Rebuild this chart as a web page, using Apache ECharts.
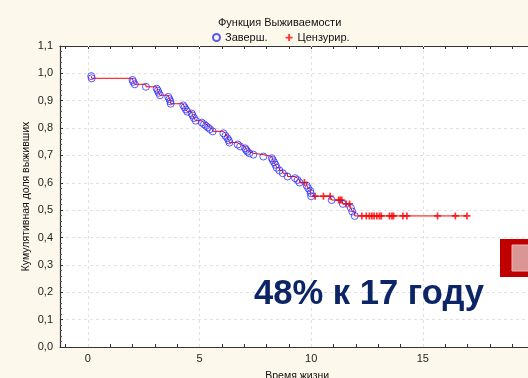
<!DOCTYPE html>
<html>
<head>
<meta charset="utf-8">
<script src="https://cdn.jsdelivr.net/npm/echarts@6/dist/echarts.min.js"></script>
<style>
html,body{margin:0;padding:0;background:#fdf8ec;}
#c{width:528px;height:378px;}
</style>
</head>
<body>
<div id="c"></div>
<script>
// ---- data ----
const eventTimes = [0.15,0.17,2.00,2.03,2.10,2.60,3.08,3.13,3.17,3.23,3.60,3.65,3.69,3.71,4.27,4.33,4.39,4.45,4.65,4.69,4.75,4.83,5.10,5.20,5.29,5.38,5.47,5.59,6.07,6.16,6.25,6.31,6.34,6.71,6.82,7.04,7.09,7.14,7.23,7.41,7.86,8.24,8.28,8.34,8.40,8.46,8.58,8.73,8.94,9.28,9.39,9.48,9.80,9.87,9.96,9.98,10.00,10.92,11.42,11.78,11.84,11.95];
const eventSurv  = [0.990,0.982,0.976,0.969,0.960,0.951,0.944,0.937,0.929,0.920,0.914,0.906,0.898,0.889,0.883,0.876,0.868,0.860,0.853,0.846,0.837,0.827,0.820,0.814,0.808,0.802,0.796,0.788,0.781,0.772,0.763,0.755,0.747,0.740,0.733,0.726,0.720,0.714,0.708,0.703,0.696,0.690,0.683,0.675,0.666,0.655,0.645,0.635,0.623,0.617,0.610,0.601,0.590,0.580,0.571,0.562,0.551,0.537,0.523,0.508,0.495,0.479];
const censTimes = [9.70,10.18,10.55,10.85,11.23,11.30,11.37,11.57,11.72,12.27,12.47,12.61,12.72,12.82,12.94,13.06,13.14,13.51,13.62,13.69,14.11,14.29,15.66,16.46,16.98];
const censSurv  = [0.601,0.551,0.551,0.551,0.537,0.537,0.537,0.523,0.523,0.479,0.479,0.479,0.479,0.479,0.479,0.479,0.479,0.479,0.479,0.479,0.479,0.479,0.479,0.479,0.479];
const xLabelValues = [0,5,10,15];
const xMinorTicks = [-1,0,1,2,3,4,5,6,7,8,9,10,11,12,13,14,15,16,17,18,19];
const titleText = 'Функция Выживаемости';
const seriesNames = ['Заверш.','Цензурир.'];
const xName = 'Время жизни';
const yName = 'Кумулятивная доля выживших';
const noteText = '48% к 17 году';

// ---- build ----
const events = eventTimes.map((t,i)=>[t,eventSurv[i]]);
const cens = censTimes.map((t,i)=>[t,censSurv[i]]);
const all = events.concat(cens).slice().sort((a,b)=>a[0]-b[0] || b[1]-a[1]);

const FONT = '"Liberation Sans", Arial, sans-serif';
const plus = 'path://M3,0H5V3H8V5H5V8H3V5H0V3H3Z';

const chart = echarts.init(document.getElementById('c'), null, {renderer:'canvas'});
chart.setOption({
  backgroundColor:'#fdf8ec',
  animation:false,
  textStyle:{fontFamily:FONT},
  title:{text:titleText,left:213,top:12,textStyle:{fontSize:11,fontWeight:'normal',color:'#111',fontFamily:FONT}},
  legend:{data:[
      {name:seriesNames[0],icon:'circle'},
      {name:seriesNames[1],icon:plus}],
    left:207,top:27,itemWidth:7,itemHeight:7,itemGap:18,
    textStyle:{fontSize:11,color:'#111',fontFamily:FONT}},
  grid:{left:60,top:46,width:474.4,height:301,show:true,backgroundColor:'#ffffff',borderWidth:0,
        containLabel:false,outerBoundsMode:'none'},
  xAxis:[{
    type:'value',min:-1.25,max:20,position:'bottom',
    name:xName,nameLocation:'middle',nameGap:24,nameMoveOverlap:false,
    nameTextStyle:{fontSize:10.5,color:'#111',fontFamily:FONT},
    axisLine:{show:true,onZero:false,lineStyle:{color:'#333',width:1.2}},
    axisTick:{show:true,inside:true,length:3,customValues:xMinorTicks,lineStyle:{color:'#333'}},
    axisLabel:{customValues:xLabelValues,fontSize:11,color:'#222',margin:6,fontFamily:FONT},
    splitLine:{show:false}
  },{
    type:'value',min:-1.25,max:20,position:'top',
    axisLine:{show:true,onZero:false,lineStyle:{color:'#333',width:1.2}},
    axisTick:{show:true,inside:true,length:3,customValues:xMinorTicks,lineStyle:{color:'#333'}},
    axisLabel:{show:false},splitLine:{show:false}
  }],
  yAxis:{
    type:'value',min:0,max:1.1,interval:0.1,
    name:yName,nameLocation:'middle',nameGap:28,nameRotate:90,nameMoveOverlap:false,
    nameTextStyle:{fontSize:10.5,color:'#111',fontFamily:FONT},
    axisLine:{show:true,onZero:false,lineStyle:{color:'#333',width:1.2}},
    axisTick:{show:true,inside:true,length:3,lineStyle:{color:'#333'}},
    minorTick:{show:true,splitNumber:5,length:2,lineStyle:{color:'#555'}},
    axisLabel:{fontSize:11,color:'#222',margin:7,fontFamily:FONT,
      formatter:v=>v.toFixed(1).replace('.',',')},
    splitLine:{show:true,lineStyle:{color:'#e2e2e2',type:[3,3],width:1}}
  },
  series:[
    {type:'line',name:'grid',data:[],z:1,silent:true,
     markLine:{silent:true,symbol:'none',label:{show:false},animation:false,
       lineStyle:{color:'#e2e2e2',type:[3,3],width:1},
       data:xLabelValues.map(v=>({xAxis:v}))}},
    {type:'line',name:'km',data:all,step:'end',showSymbol:false,symbol:'none',z:3,
     lineStyle:{color:'#ff0000',width:1},silent:true},
    {type:'scatter',name:seriesNames[0],data:events,symbol:'circle',symbolSize:7,z:5,
     itemStyle:{color:'rgba(255,255,255,0)',borderColor:'#3030ff',borderWidth:1}},
    {type:'scatter',name:seriesNames[1],data:cens,symbol:plus,symbolSize:7,z:4,
     itemStyle:{color:'#ff0000'}}
  ],
  graphic:[
    {type:'text',left:254,top:277,z:10,style:{text:noteText,fill:'#0b2566',font:'bold 34.6px "Liberation Sans", Arial, sans-serif'}},
    {type:'rect',shape:{x:500,y:239,width:40,height:38},z:10,style:{fill:'#c00000'}},
    {type:'rect',shape:{x:512,y:245,width:30,height:26},z:11,style:{fill:'#d99694',stroke:'#e6b8b7',lineWidth:1}}
  ]
});
</script>
</body>
</html>
